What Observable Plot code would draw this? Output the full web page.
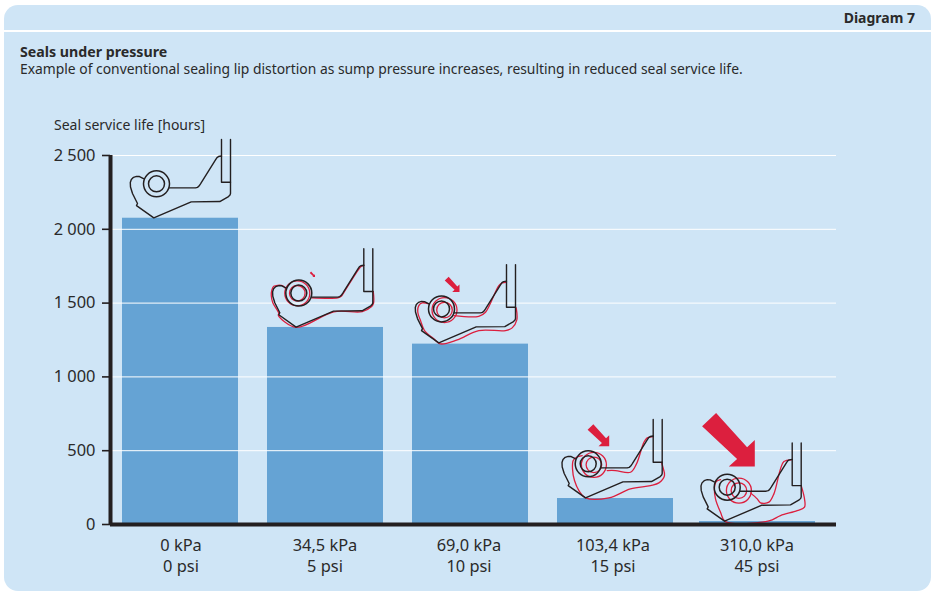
<!doctype html>
<html><head><meta charset="utf-8">
<script src="https://cdn.jsdelivr.net/npm/d3@7"></script>
<script src="https://cdn.jsdelivr.net/npm/@observablehq/plot@0.6"></script>
<style>
html,body{margin:0;padding:0;background:#fff;width:931px;height:591px;overflow:hidden;font-family:"Noto Sans",sans-serif;color:#2a2a2a}
#panel{position:absolute;left:4px;top:5px;width:927px;height:586px;background:#cfe5f6;border-radius:14px}
#sep{position:absolute;left:4px;top:30px;width:927px;height:2px;background:#fff}
.t{position:absolute;white-space:nowrap;line-height:16px}
#chart{position:absolute;left:0;top:0}
</style></head><body>
<div id="panel"></div><div id="sep"></div>
<div class="t" style="right:16px;top:9.5px;font-size:14px;font-weight:700">Diagram 7</div>
<div class="t" style="left:20px;top:44.5px;line-height:14px;font-size:14.2px;font-weight:700">Seals under pressure</div>
<div class="t" style="left:20px;top:61.5px;line-height:14px;font-size:13.87px">Example of conventional sealing lip distortion as sump pressure increases, resulting in reduced seal service life.</div>
<div class="t" style="left:54px;top:117px;font-size:14px">Seal service life [hours]</div>
<div id="chart"></div>
<script>
const pressures = ["0 kPa\n0 psi","34,5 kPa\n5 psi","69,0 kPa\n10 psi","103,4 kPa\n15 psi","310,0 kPa\n45 psi"];
const serviceLife = [2075, 1335, 1222, 176, 20];
const yTicks = [0, 500, 1000, 1500, 2000, 2500];
const barShift = [0, 0, 0, 0, -3];
const labelShift = [0.5, -0.5, -1.5, -2.5, -3.5];

// Seal illustration, sketched in local units from the wall's top corner
const blackOutline = [[9,0],[9,54],[8.5,55.5],[7,57],[-1.7,62],[-30.3,62.3],[-67.7,78.3],[-85,66],[-84,64],[-87,58],[-89,54],[-91,47.5],[-91.2,43],[-90.2,40],[-88,37.8],[-85,36.8],[-82,37],[-78,39]];
const blackSpring = [[-52,48.3],[-26,48.3],[-24,47.8],[-22.5,46.5],[-21,44.3],[-6,20.3],[-4.5,18],[-3,17],[0,16.5]];
const blackWall = [[0,0],[0,42.7],[9,42.7]];
const blackRing = [-65, 44.3];
const redOutlines = [null,
 [[9.5,42.7],[9.7,54.5],[7.5,58],[-1.5,62.8],[-30,63],[-67.7,78.5],[-85.5,66.5],[-85,64.5],[-91,54],[-92.5,47],[-92,41.5],[-90,37.5],[-86,36.5],[-81,37],[-78,40]],
 [[9.7,43.3],[10.3,55.3],[5.7,63.3],[-1,66],[-27.7,66],[-49.3,75.3],[-66,79.3],[-72.7,74.3],[-82,66],[-86,56],[-88.7,47.7],[-87.7,41],[-84.3,38.3],[-77.7,39.3]],
 [[8.3,42.7],[9.7,47.7],[11.3,56],[5.7,63.3],[-2.7,66],[-22.7,69.3],[-44.3,78.3],[-67.7,78.3],[-74.3,71],[-78.7,61],[-80.7,49.3],[-80,41],[-76.7,37.7],[-71,36]],
 [[9,42.7],[12.3,56],[12.3,64.3],[5,67.7],[-11.7,72.7],[-23.3,78],[-66.7,78.7],[-71.7,69.3],[-76.7,56],[-77.7,44.3],[-76,38.7],[-71.7,36.7]]
];
const redSprings = [null,
 [[-52,49],[-26,49],[-22.5,47.5],[-20.5,44.5],[-5.5,21],[-2.5,17.5],[0,16.5]],
 [[-52.7,51],[-27.7,51.7],[-21,47.7],[-7.7,21],[-4.3,18.3],[0,17.7]],
 [[-46,51],[-37.7,51],[-22.7,52.7],[-16.7,44.3],[-9.3,22.7],[-6,18.3],[0,17]],
 [[-41.7,50],[-35,56],[-31.7,60],[-23.3,59.3],[-18.3,51],[-11.7,26],[-8.3,18.7],[-1,17]]
];
const redRings = [null, [-66.5,44.5], [-62,45.5], [-59.3,45.3], [-53.3,47.7]];
const sealX = [41, 38.3, 36, 37.7, 31.7];
const sealHours = [2608, 1868, 1761, 711, 553];
const arrowShape = [[-38.7,-53.7],[-52.7,-40.3],[-17.7,-7.7],[-26,0],[0,0],[0,-26.7],[-7.7,-19.3]];
const arrowCorners = [null, [-48.8,28.2], [-47,27.3], [-44,26.7], [-37.4,23.7]];
const arrowSizes = [0, 0.1, 0.28, 0.41, 1];
const axisStart = -70, axisEnd = 656;

const table = pressures.map((p,i)=>({p, life:serviceLife[i], x1:-58+barShift[i], x2:58+barShift[i], lx:labelShift[i]}));
const hoursPerUnit = 2500/369;
const lines=[], reds=[], rings=[], redRingDots=[], arrows=[];
const push=(arr,pts,i,z)=>pts.forEach(([x,y])=>arr.push({p:pressures[i],z:i+z,x:sealX[i]+x,y:sealHours[i]-y*hoursPerUnit}));
pressures.forEach((p,i)=>{
  push(lines,blackOutline,i,"o"); push(lines,blackSpring,i,"s"); push(lines,blackWall,i,"w");
  [13,8].forEach(r=>rings.push({p,r,x:sealX[i]+blackRing[0],y:sealHours[i]-blackRing[1]*hoursPerUnit}));
  if(redOutlines[i]){
    push(reds,redOutlines[i],i,"o"); push(reds,redSprings[i],i,"s");
    [12.5,7.8].forEach(r=>redRingDots.push({p,r,x:sealX[i]+redRings[i][0],y:sealHours[i]-redRings[i][1]*hoursPerUnit}));
    push(arrows,arrowShape.map(([x,y])=>[arrowCorners[i][0]+x*arrowSizes[i],arrowCorners[i][1]+y*arrowSizes[i]]),i,"a");
  }
});
const ink="#231f20", red="#dc1f3e";
const first = pressures[0];
const plot = Plot.plot({
  width:931, height:591,
  marginLeft:110, marginRight:95, marginTop:155, marginBottom:67,
  style:{background:"transparent",fontFamily:'"Noto Sans",sans-serif',fontSize:"16.4px",color:"#2a2a2a",overflow:"visible"},
  fx:{domain:pressures,paddingInner:0.2,paddingOuter:0.1,range:[107.5,832.5],label:null,axis:null},
  x:{domain:[-58,58],axis:null},
  y:{domain:[0,2500],axis:null},
  r:{type:"identity"},
  marks:[
    Plot.rectY(table,{fx:"p",x1:"x1",x2:"x2",y:"life",fill:"#65a3d4"}),
    Plot.ruleY(yTicks,{fx:()=>first,x1:axisStart,x2:axisEnd,stroke:"#fff",strokeWidth:1}),
    Plot.line(reds,{fx:"p",x:"x",y:"y",z:"z",stroke:red,strokeWidth:1.3,curve:"catmull-rom"}),
    Plot.dot(redRingDots,{fx:"p",x:"x",y:"y",r:"r",stroke:red,strokeWidth:1.3,fill:"none"}),
    Plot.line(lines,{fx:"p",x:"x",y:"y",z:"z",stroke:ink,strokeWidth:1.4}),
    Plot.dot(rings,{fx:"p",x:"x",y:"y",r:"r",stroke:ink,strokeWidth:1.5,fill:"none"}),
    Plot.line(arrows,{fx:"p",x:"x",y:"y",z:"z",fill:red,stroke:"none"}),
    Plot.axisY({dx:-12,ticks:yTicks,label:null,tickSize:8,tickPadding:7,stroke:ink,strokeWidth:1.6,tickFormat:d=>d3.format(",")(d).replace(","," ")}),
    Plot.ruleX([axisStart],{fx:()=>first,y1:0,y2:2500,stroke:ink,strokeWidth:4}),
    Plot.ruleY([0],{fx:()=>first,x1:axisStart,x2:axisEnd,stroke:ink,strokeWidth:4}),
    Plot.text(table,{fx:"p",x:"lx",y:()=>0,text:"p",lineAnchor:"top",dy:12,lineHeight:1.28,fill:"#2a2a2a"})
  ]
});
document.getElementById("chart").appendChild(plot);
</script>
</body></html>
